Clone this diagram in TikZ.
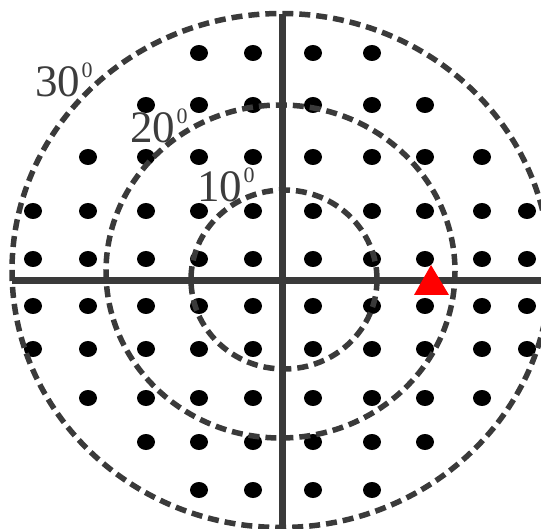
\documentclass[tikz,border=0pt]{standalone}
\usepackage{fontspec}
\setmainfont{Liberation Serif}
\definecolor{axisgray}{HTML}{3A3A3A}
\definecolor{textgray}{HTML}{3C3C3C}
\tikzset{
  axisline/.style={draw=axisgray, line width=7pt},
  ring/.style={draw=axisgray, line width=5.5pt, dash pattern=on 11pt off 6pt},
  dot/.style={fill=black},
  lbl/.style={text=textgray, inner sep=0pt, anchor=base west, font=\fontsize{45}{45}\selectfont},
  marker/.style={fill=red}
}
\newcommand{\degsup}{\hspace{1.5pt}\raisebox{19pt}{\fontsize{22}{22}\selectfont 0}}
\begin{document}
\begin{tikzpicture}[x=1pt,y=-1pt]
\useasboundingbox (0,0) rectangle (541,529);
\clip (0,0) rectangle (541,529);
% axes
\coordinate (hl) at (12,280.5);
\coordinate (hr) at (545,280.5);
\coordinate (vt) at (282,14);
\coordinate (vb) at (282,532);
\draw[axisline] (hl) -- (hr);
\draw[axisline] (vt) -- (vb);
% stimulus points
\foreach \y/\a/\b in {53/4/7, 105/3/8, 157/2/9, 211/1/10, 259/1/10, 306/1/10, 349/1/10, 398/2/9, 442/3/8, 490/4/7}{
  \foreach \i in {\a,...,\b}{
    \pgfmathsetmacro{\x}{{33,88,146,199,253,313,372,425,482,527}[\i-1]}
    \fill[dot] (\x,\y) ellipse [x radius=9, y radius=8];
  }
}
% labels
\node[lbl] (t30) at (35,97) {30\degsup};
\node[lbl] (t20) at (130,143) {20\degsup};
\node[lbl] (t10) at (197,202) {10\degsup};
% rings
\draw[ring] (281,270.5) ellipse [x radius=269, y radius=257];
\draw[ring] (280.5,271.5) ellipse [x radius=174.5, y radius=166.5];
\draw[ring] (284,279.5) ellipse [x radius=93, y radius=89.5];
% marker
\fill[marker] (431,265) -- (414,295) -- (449,295) -- cycle;
\end{tikzpicture}
\end{document}
